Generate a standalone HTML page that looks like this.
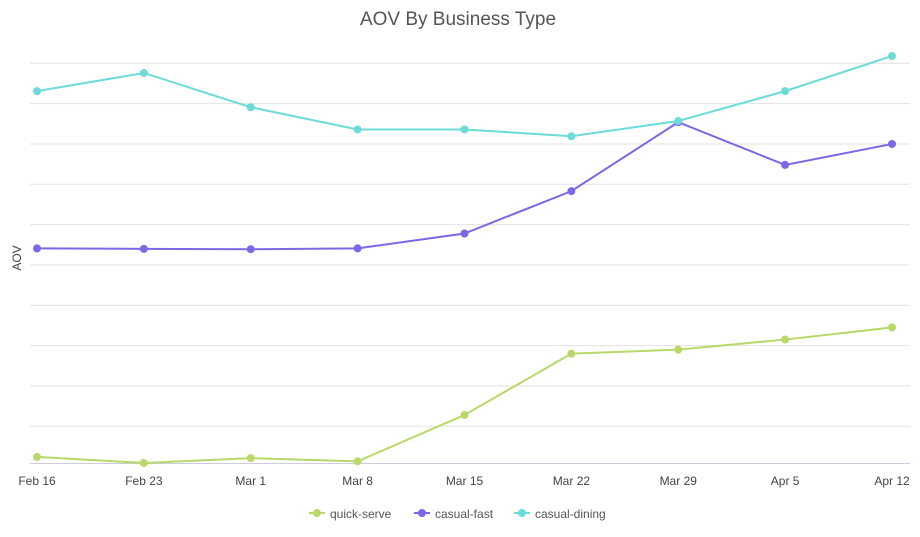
<!DOCTYPE html>
<html><head><meta charset="utf-8"><style>
body{margin:0;background:#fff;font-family:"Liberation Sans",sans-serif}
svg text{font-family:"Liberation Sans",sans-serif}
</style></head><body>
<svg id="chart" width="920" height="532">
<text x="458" y="25" text-anchor="middle" font-size="19" fill="#555">AOV By Business Type</text>
<text transform="translate(21,258) rotate(-90)" text-anchor="middle" font-size="12" fill="#444">AOV</text>
<g id="grid"></g><g id="xt"></g><g id="series"></g><g id="legend"></g>
</svg>
<script>
const categories=["Feb 16","Feb 23","Mar 1","Mar 8","Mar 15","Mar 22","Mar 29","Apr 5","Apr 12"];
const quickServe=[2.4,0.9,2.1,1.3,12.8,28.0,29.0,31.5,34.5];
const casualFast=[54.1,54.0,53.9,54.1,57.8,68.3,85.4,74.8,80.0];
const casualDining=[93.1,97.6,89.1,83.6,83.6,81.9,85.7,93.1,101.8];
const gridValues=[10,20,30,40,50,60,70,80,90,100];
const seriesNames=["quick-serve","casual-fast","casual-dining"];
const NS="http://www.w3.org/2000/svg";
const x=i=>37+i*(892-37)/(categories.length-1);
const y=v=>466.6-v*4.033;
function mk(t,a,p){const e=document.createElementNS(NS,t);for(const k in a)e.setAttribute(k,a[k]);p.appendChild(e);return e;}
const g=document.getElementById('grid');
gridValues.forEach(v=>{const l=mk('line',{x1:30,x2:910,y1:y(v),y2:y(v),stroke:'#e2e2e2','stroke-width':1},g);

});
const ax=mk('line',{x1:30,x2:910,y1:463.5,y2:463.5,stroke:'#ccd',"stroke-width":1},g);


const xt=document.getElementById('xt');
categories.forEach((c,i)=>{const t=mk('text',{x:x(i),y:485,'text-anchor':'middle','font-size':12,fill:'#444'},xt);t.textContent=c;

});
const colors=["#b8d86a","#7b68e6","#6ddbd8"];
const data=[quickServe,casualFast,casualDining];
const sg=document.getElementById('series');
data.forEach((d,s)=>{const grp=mk('g',{},sg);


mk('polyline',{points:d.map((v,i)=>x(i)+','+y(v)).join(' '),fill:'none',stroke:colors[s],'stroke-width':2},grp);
d.forEach((v,i)=>{const c=mk('circle',{cx:x(i),cy:y(v),r:4,fill:colors[s]},grp);

});});
const lg=document.getElementById('legend');
const lx=[309,414,514];
seriesNames.forEach((n,s)=>{const e=mk('g',{},lg);


mk('line',{x1:lx[s],x2:lx[s]+16,y1:513,y2:513,stroke:colors[s],'stroke-width':2},e);
mk('circle',{cx:lx[s]+8,cy:513,r:4,fill:colors[s]},e);
const t=mk('text',{x:lx[s]+21,y:518,'font-size':12,fill:'#555'},e);t.textContent=n;});
</script>
</body></html>
